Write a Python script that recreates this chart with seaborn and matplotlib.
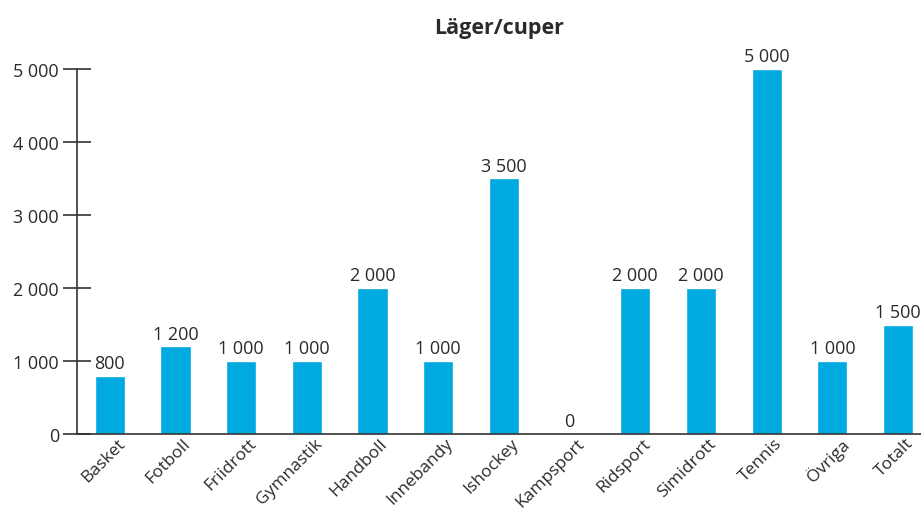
import matplotlib
matplotlib.use("Agg")
import matplotlib.pyplot as plt
import matplotlib.transforms as mtransforms
import seaborn as sns
import pandas as pd

# Chart data
categories = ["Basket", "Fotboll", "Friidrott", "Gymnastik", "Handboll", "Innebandy",
              "Ishockey", "Kampsport", "Ridsport", "Simidrott", "Tennis", "Övriga", "Totalt"]
values = [800, 1200, 1000, 1000, 2000, 1000, 3500, 0, 2000, 2000, 5000, 1000, 1500]
y_ticks = [0, 1000, 2000, 3000, 4000, 5000]

BAR_COLOR = "#00A9E0"
TEXT_COLOR = "#2b2b2b"


def fmt(v):
    # Swedish style thousands separator (space)
    return f"{v:,}".replace(",", " ")


sns.set_style("white")
plt.rcParams["font.family"] = ["Open Sans", "DejaVu Sans"]

df = pd.DataFrame({"sport": categories, "value": values})

fig = plt.figure(figsize=(9.21, 5.10), dpi=100)
ax = fig.add_axes([77 / 921, 75 / 510, 1 - 77 / 921, 365 / 510])

sns.barplot(data=df, x="sport", y="value", color=BAR_COLOR, width=0.46,
            saturation=1, ax=ax)

ax.set_xlim(-0.5, 12.35)
ax.set_ylim(0, 5000)
ax.set_yticks(y_ticks)
ax.set_yticklabels([fmt(t) for t in y_ticks], fontsize=13, color=TEXT_COLOR)
ax.tick_params(axis="y", left=True, direction="inout", length=20, width=1.2,
               color="#333333", pad=3)
ax.tick_params(axis="x", bottom=False, pad=0)
ax.set_xticks(range(len(categories)))
ax.set_xticklabels(categories, rotation=45, ha="right", va="top",
                   rotation_mode="anchor", fontsize=12.5, color=TEXT_COLOR)
# shift the rotated labels a little up/right, like the reference
shift = mtransforms.ScaledTranslation(7 / 100, 4 / 100, fig.dpi_scale_trans)
for lbl in ax.get_xticklabels():
    lbl.set_transform(lbl.get_transform() + shift)

ax.set_xlabel("")
ax.set_ylabel("")

for side in ["top", "right"]:
    ax.spines[side].set_visible(False)
for side in ["left", "bottom"]:
    ax.spines[side].set_color("#333333")
    ax.spines[side].set_linewidth(1.2)

# Value labels above bars
for i, v in enumerate(values):
    ax.text(i, v + 50, fmt(v), ha="center", va="bottom", fontsize=13,
            color=TEXT_COLOR, clip_on=False)

ax.set_title("Läger/cuper", fontsize=15.5, fontweight="bold", color=TEXT_COLOR, pad=26)

fig.savefig("out.png", dpi=100)
